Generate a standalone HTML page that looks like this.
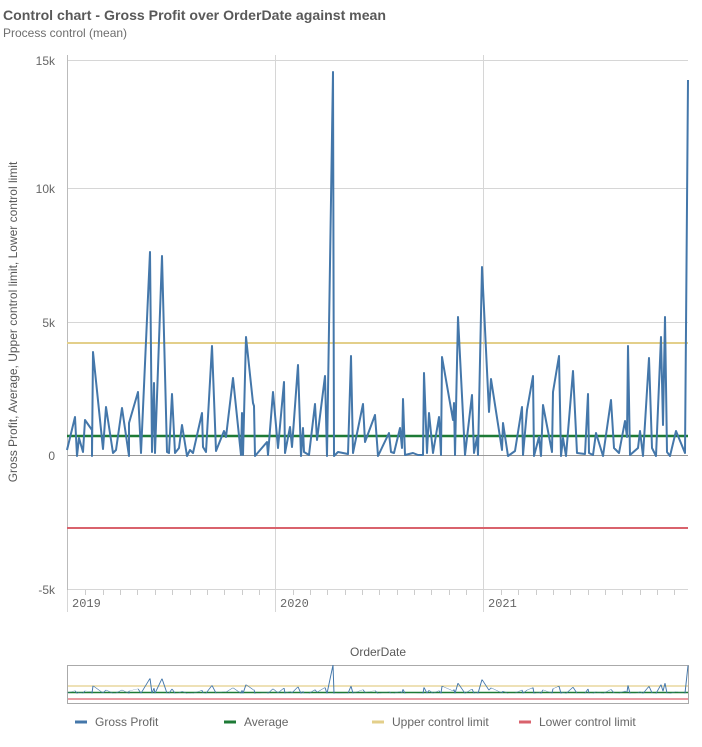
<!DOCTYPE html>
<html><head><meta charset="utf-8"><style>
body{margin:0;background:#fff;width:702px;height:742px;overflow:hidden;font-family:"Liberation Sans",sans-serif}
</style></head><body>
<svg width="702" height="742" xmlns="http://www.w3.org/2000/svg" font-family="Liberation Sans, sans-serif">
<text x="3" y="20" font-size="14" font-weight="bold" fill="#595959" textLength="383" lengthAdjust="spacingAndGlyphs">Control chart - Gross Profit over OrderDate against mean</text>
<text x="3" y="37" font-size="12" fill="#6e6e6e">Process control (mean)</text>
<g stroke="#d6d6d6" stroke-width="1">
<line x1="67" y1="60.5" x2="688" y2="60.5"/>
<line x1="67" y1="188.5" x2="688" y2="188.5"/>
<line x1="67" y1="322.5" x2="688" y2="322.5"/>
<line x1="67" y1="589.5" x2="688" y2="589.5"/>
<line x1="275.5" y1="55" x2="275.5" y2="612"/>
<line x1="483.5" y1="55" x2="483.5" y2="612"/>
<line x1="67.5" y1="589" x2="67.5" y2="612"/>
</g>
<line x1="67" y1="455.5" x2="688" y2="455.5" stroke="#999" stroke-width="1"/>
<line x1="67.5" y1="55" x2="67.5" y2="590" stroke="#bbb" stroke-width="1"/>
<g stroke="#ccc" stroke-width="1">
<line x1="85.5" y1="590" x2="85.5" y2="595"/><line x1="103.5" y1="590" x2="103.5" y2="595"/><line x1="120.5" y1="590" x2="120.5" y2="595"/><line x1="137.5" y1="590" x2="137.5" y2="595"/><line x1="155.5" y1="590" x2="155.5" y2="595"/><line x1="172.5" y1="590" x2="172.5" y2="595"/><line x1="190.5" y1="590" x2="190.5" y2="595"/><line x1="207.5" y1="590" x2="207.5" y2="595"/><line x1="224.5" y1="590" x2="224.5" y2="595"/><line x1="242.5" y1="590" x2="242.5" y2="595"/><line x1="259.5" y1="590" x2="259.5" y2="595"/>
<line x1="293.5" y1="590" x2="293.5" y2="595"/><line x1="310.5" y1="590" x2="310.5" y2="595"/><line x1="327.5" y1="590" x2="327.5" y2="595"/><line x1="345.5" y1="590" x2="345.5" y2="595"/><line x1="362.5" y1="590" x2="362.5" y2="595"/><line x1="379.5" y1="590" x2="379.5" y2="595"/><line x1="397.5" y1="590" x2="397.5" y2="595"/><line x1="414.5" y1="590" x2="414.5" y2="595"/><line x1="431.5" y1="590" x2="431.5" y2="595"/><line x1="449.5" y1="590" x2="449.5" y2="595"/><line x1="466.5" y1="590" x2="466.5" y2="595"/>
<line x1="501.5" y1="590" x2="501.5" y2="595"/><line x1="518.5" y1="590" x2="518.5" y2="595"/><line x1="536.5" y1="590" x2="536.5" y2="595"/><line x1="553.5" y1="590" x2="553.5" y2="595"/><line x1="570.5" y1="590" x2="570.5" y2="595"/><line x1="588.5" y1="590" x2="588.5" y2="595"/><line x1="605.5" y1="590" x2="605.5" y2="595"/><line x1="622.5" y1="590" x2="622.5" y2="595"/><line x1="640.5" y1="590" x2="640.5" y2="595"/><line x1="657.5" y1="590" x2="657.5" y2="595"/><line x1="674.5" y1="590" x2="674.5" y2="595"/>
</g>
<g font-size="12" fill="#666" text-anchor="end">
<text x="55" y="65">15k</text><text x="55" y="193">10k</text><text x="55" y="327">5k</text><text x="55" y="460">0</text><text x="55" y="594">-5k</text>
</g>
<g font-size="12" fill="#666" font-family="Liberation Mono, monospace">
<text x="72" y="607">2019</text><text x="280" y="607">2020</text><text x="488" y="607">2021</text>
</g>
<text transform="translate(17,322) rotate(-90)" font-size="12" fill="#595959" text-anchor="middle">Gross Profit, Average, Upper control limit, Lower control limit</text>
<text x="378" y="656" font-size="12" fill="#595959" text-anchor="middle">OrderDate</text>
<line x1="67" y1="343" x2="688" y2="343" stroke="#e3cf8a" stroke-width="2"/>
<line x1="67" y1="528" x2="688" y2="528" stroke="#d9626c" stroke-width="2"/>
<line x1="67" y1="436" x2="688" y2="436" stroke="#1d7a36" stroke-width="2.5"/>
<defs>
<polyline id="s" fill="none" points="67,450 75,417 77,456 79,438 83,452 85,420 92,430 92,456 93,352 103,449 106,407 113,453 116,450 122,408 129,456 129,423 138,392 141,453 150,252 152,452 154,383 155,453 162,256 167,452 169,453 172,394 175,453 179,448 182,425 187,456 190,450 193,453 202,413 203,447 206,452 212,346 216,451 224,431 226,437 233,378 241,455 242,413 243,455 246,337 253,403 254,406 255,456 267,442 268,455 273,392 278,448 284,382 285,453 290,427 292,447 298,365 301,456 303,428 304,452 309,455 315,404 317,440 325,376 327,456 333,72 334,456 338,452 348,454 351,356 353,453 363,404 365,442 375,415 378,456 389,433 391,452 394,453 400,428 402,448 403,399 405,455 413,453 418,455 423,455 424,373 427,453 429,413 433,453 439,417 441,455 442,357 453,420 454,403 455,455 458,317 465,455 472,395 474,453 477,437 478,455 482,267 489,412 491,379 502,450 503,423 508,456 515,451 522,407 523,455 527,410 533,376 534,456 539,437 541,456 543,405 552,452 553,392 559,356 561,456 563,438 566,456 573,371 577,453 585,454 588,394 589,453 593,455 596,433 603,456 611,400 614,448 619,453 625,421 627,437 628,346 630,455 638,448 640,431 643,456 649,358 652,448 656,456 661,337 663,425 665,317 667,452 670,456 676,431 685,453 688,80"/>
</defs>
<use href="#s" stroke="#4477aa" stroke-width="2" stroke-linejoin="round"/>
<rect x="67.5" y="665.5" width="621" height="38" fill="#fff" stroke="#aaa"/>
<line x1="68" y1="686" x2="688" y2="686" stroke="#e3cf8a" stroke-width="1.2"/>
<line x1="68" y1="699" x2="688" y2="699" stroke="#d9626c" stroke-width="1.2"/>
<line x1="68" y1="692.5" x2="688" y2="692.5" stroke="#1d7a36" stroke-width="1.5"/>
<g transform="translate(0,665) scale(1,0.0742) translate(0,-72)">
<use href="#s" stroke="#4477aa" stroke-width="1" vector-effect="non-scaling-stroke"/>
</g>
<g font-size="12" fill="#666">
<line x1="75" y1="722" x2="87" y2="722" stroke="#4477aa" stroke-width="3"/><text x="95" y="726">Gross Profit</text>
<line x1="224" y1="722" x2="236" y2="722" stroke="#1d7a36" stroke-width="3"/><text x="244" y="726">Average</text>
<line x1="372" y1="722" x2="384" y2="722" stroke="#e3cf8a" stroke-width="3"/><text x="392" y="726">Upper control limit</text>
<line x1="519" y1="722" x2="531" y2="722" stroke="#d9626c" stroke-width="3"/><text x="539" y="726">Lower control limit</text>
</g>
</svg>
</body></html>
